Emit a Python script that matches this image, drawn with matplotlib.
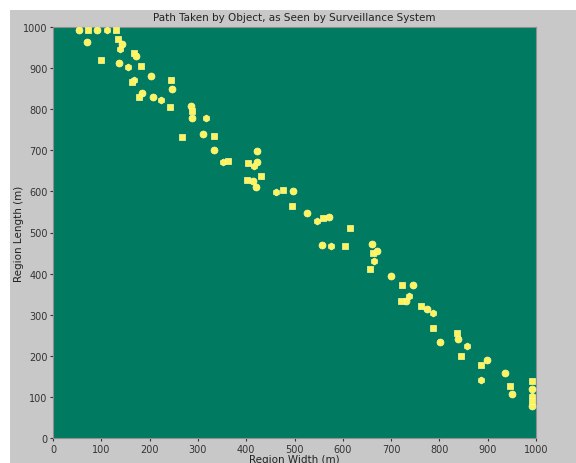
import matplotlib
matplotlib.use('Agg')
import matplotlib.pyplot as plt
from matplotlib.patches import Rectangle

# позиции объекта (м)
x_pos = [54, 72, 91, 112, 130, 70, 135, 143, 139, 99, 137, 168, 172, 155, 182,
         203, 244, 246, 168, 163, 184, 178, 207, 224, 242, 286, 287, 288, 317,
         267, 311, 333, 333, 352, 362, 422, 404, 422, 416, 401, 414, 430, 420,
         462, 476, 497, 495, 526, 547, 559, 571, 615, 557, 576, 605, 660, 662,
         671, 665, 656, 700, 723, 745, 737, 720, 731, 762, 774, 787, 787, 801,
         836, 839, 857, 845, 899, 886, 936, 887, 946, 950, 992, 992, 992, 992,
         992]
y_pos = [993, 993, 993, 993, 993, 964, 971, 959, 946, 920, 912, 937, 929, 903,
         905, 881, 871, 849, 871, 866, 839, 830, 830, 822, 805, 808, 796, 779,
         779, 732, 740, 735, 701, 672, 674, 698, 669, 672, 662, 628, 625, 637,
         611, 599, 603, 601, 564, 547, 528, 535, 538, 511, 470, 467, 467, 472,
         450, 455, 431, 411, 394, 372, 372, 346, 333, 333, 321, 314, 304, 268,
         234, 255, 241, 224, 200, 190, 178, 158, 140, 126, 107, 139, 119, 102,
         90, 78]

fig = plt.figure(figsize=(5.76, 4.64), dpi=100, facecolor='white')
# серая подложка окна
fig.patches.append(Rectangle((10 / 576, 0), 1, 1 - 11 / 464,
                             transform=fig.transFigure, facecolor='#c8c8c8',
                             edgecolor='none', zorder=-1))

ax = fig.add_axes([53 / 576, 1 - 439 / 464, 483 / 576, 411 / 464])
ax.set_facecolor('#007a60')

markers = ['o', 's', 'o', 'h', 's']
for i in range(len(markers)):
    ax.scatter(x_pos[i::len(markers)], y_pos[i::len(markers)], s=25,
               marker=markers[i], color='#fef45a', edgecolors='#fffaa0',
               linewidths=0.5, zorder=3)

ax.set_xlim(0, 1000)
ax.set_ylim(0, 1000)
ax.set_xticks(range(0, 1001, 100))
ax.set_yticks(range(0, 1001, 100))
ax.tick_params(labelsize=7, colors='#333333', length=2, pad=2)
for s in ax.spines.values():
    s.set_color('#909090')
    s.set_linewidth(0.8)

ax.set_title('Path Taken by Object, as Seen by Surveillance System',
             fontsize=7.5, color='#222222', pad=5)
ax.set_xlabel('Region Width (m)', fontsize=7.5, color='#222222', labelpad=0)
ax.set_ylabel('Region Length (m)', fontsize=7.5, color='#222222', labelpad=-1)

plt.savefig('out.png', dpi=100, facecolor=fig.get_facecolor())
plt.close()
